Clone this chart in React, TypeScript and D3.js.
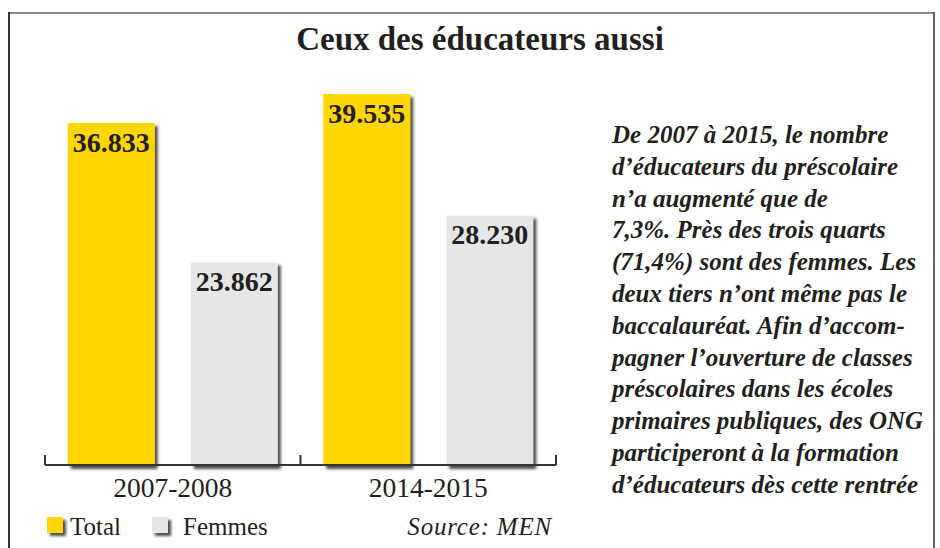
import React from "react";
import * as d3 from "d3";

const title = "Ceux des éducateurs aussi";
const categories = ["2007-2008", "2014-2015"];
const seriesNames = ["Total", "Femmes"];
const totalValues = [36833, 39535];
const femmesValues = [23862, 28230];
const valueLabels = [["36.833", "39.535"], ["23.862", "28.230"]];
const source = "Source: MEN";
const paragraph = [
  "De 2007 à 2015, le nombre",
  "d’éducateurs du préscolaire",
  "n’a augmenté que de",
  "7,3%. Près des trois quarts",
  "(71,4%) sont des femmes. Les",
  "deux tiers n’ont même pas le",
  "baccalauréat. Afin d’accom-",
  "pagner l’ouverture de classes",
  "préscolaires dans les écoles",
  "primaires publiques, des ONG",
  "participeront à la formation",
  "d’éducateurs dès cette rentrée",
];

const W = 940;
const H = 548;
const colors = ["#FFD600", "#E5E6E8"];
const serif = "'Liberation Serif', 'Times New Roman', serif";

export default function App() {
  const series = [totalValues, femmesValues];
  const axisY = 465;
  const x0 = d3.scaleBand<string>().domain(categories).range([45, 556]).paddingInner(0).paddingOuter(0);
  const x1 = d3
    .scaleBand<string>()
    .domain(seriesNames)
    .range([0, x0.bandwidth()])
    .paddingInner(0.293)
    .paddingOuter(0.185);
  const y = d3.scaleLinear().domain([5000, 40000]).range([axisY, 89]);

  return (
    <svg
      width={W}
      height={H}
      style={{ position: "absolute", left: 0, top: 0, background: "#fff" }}
    >
      <defs>
        <filter id="sh" x="-20%" y="-20%" width="150%" height="150%">
          <feDropShadow dx="3" dy="3" stdDeviation="1.6" floodColor="#2a2a2a" floodOpacity="0.85" />
        </filter>
      </defs>
      <rect x={0} y={0} width={W} height={H} fill="#fff" />
      {/* frame */}
      <line x1={8} y1={13} x2={934} y2={13} stroke="#888" strokeWidth={2} />
      <line x1={9} y1={12} x2={9} y2={H} stroke="#333" strokeWidth={2} />
      <line x1={934} y1={12} x2={934} y2={H} stroke="#333" strokeWidth={1.5} />

      <text
        x={480}
        y={50}
        textAnchor="middle"
        fontFamily={serif}
        fontWeight="bold"
        fontSize={33}
        fill="#231f20"
      >
        {title}
      </text>

      {/* bars */}
      {categories.map((c, ci) =>
        seriesNames.map((s, si) => {
          const v = series[si][ci];
          const bx = (x0(c) as number) + (x1(s) as number);
          const bw = x1.bandwidth();
          const top = y(v);
          return (
            <g key={c + s}>
              <rect
                x={bx}
                y={top}
                width={bw}
                height={axisY + 1 - top}
                fill={colors[si]}
                filter="url(#sh)"
              />
              <text
                x={bx + bw / 2}
                y={top + 29}
                textAnchor="middle"
                fontFamily={serif}
                fontWeight="bold"
                fontSize={28}
                fill="#231f20"
              >
                {valueLabels[si][ci]}
              </text>
            </g>
          );
        })
      )}

      {/* axis */}
      <line x1={x0.range()[0]} y1={axisY} x2={x0.range()[1]} y2={axisY} stroke="#333" strokeWidth={2} />
      {[...categories.map((c) => x0(c) as number), x0.range()[1]].map((tx, i) => (
        <line key={i} x1={tx} y1={axisY} x2={tx} y2={axisY - 10} stroke="#333" strokeWidth={2} />
      ))}
      {categories.map((c) => (
        <text
          key={c}
          x={(x0(c) as number) + x0.bandwidth() / 2}
          y={497}
          textAnchor="middle"
          fontFamily={serif}
          fontSize={27.5}
          fill="#231f20"
        >
          {c}
        </text>
      ))}

      {/* legend */}
      <rect x={47} y={517} width={16} height={16} fill={colors[0]} filter="url(#sh)" />
      <text x={70} y={535} fontFamily={serif} fontSize={25} fill="#231f20">
        {seriesNames[0]}
      </text>
      <rect x={152} y={517} width={16} height={16} fill={colors[1]} filter="url(#sh)" />
      <text x={183} y={535} fontFamily={serif} fontSize={25} fill="#231f20">
        {seriesNames[1]}
      </text>
      <text
        x={552}
        y={535}
        textAnchor="end"
        fontFamily={serif}
        fontStyle="italic"
        fontSize={25}
        letterSpacing={0.8}
        fill="#231f20"
      >
        {source}
      </text>

      {/* paragraph */}
      {paragraph.map((line, i) => (
        <text
          key={i}
          x={612}
          y={143 + i * 31.8}
          fontFamily={serif}
          fontStyle="italic"
          fontWeight="bold"
          fontSize={25}
          fill="#231f20"
        >
          {line}
        </text>
      ))}
    </svg>
  );
}
